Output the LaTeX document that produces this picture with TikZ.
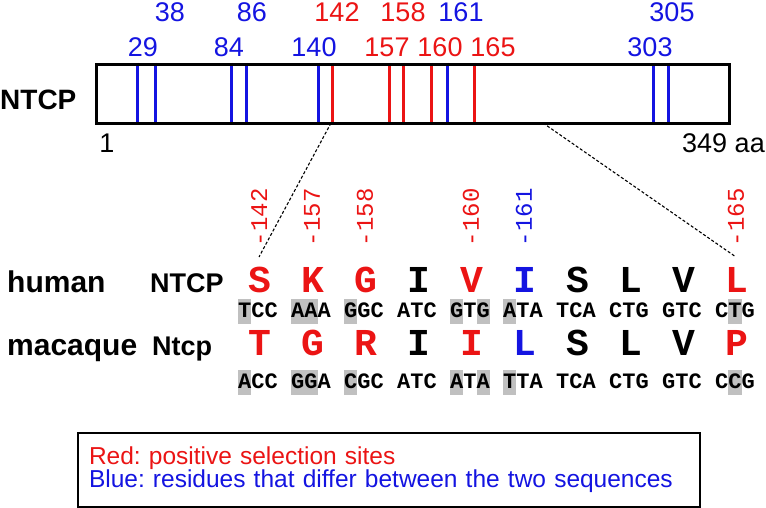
\documentclass[tikz,border=0pt]{standalone}
\usepackage{fontspec}
\setmainfont{Liberation Sans}
\newfontfamily\courfont{Liberation Mono}
\usetikzlibrary{calc}
\frenchspacing
\definecolor{ink}{RGB}{0,0,0}
\definecolor{selred}{RGB}{235,20,20}
\definecolor{diffblue}{RGB}{20,20,225}
\definecolor{hlgray}{RGB}{192,192,192}
\newcommand{\px}[1]{\fontsize{#1}{#1}\selectfont}
\newcommand{\hl}[1]{{\setlength{\fboxsep}{0pt}\colorbox{hlgray}{\rule[-0.3em]{0pt}{1.1em}#1}}}
\tikzset{
  every picture/.style={x=1pt, y=-1pt, color=ink},
  bar/.style={draw=ink, line width=3pt, inner sep=0pt},
  site/.style={line width=3pt},
  sitelbl/.style={font=\px{27}, inner sep=0pt},
  barname/.style={font=\px{28}\bfseries, anchor=west, inner sep=0pt},
  species/.style={font=\px{30}\bfseries, anchor=base west, inner sep=0pt},
  gene/.style={font=\px{27}\bfseries, anchor=base west, inner sep=0pt},
  res/.style={font=\courfont\bfseries\px{38}, anchor=base, inner sep=0pt},
  codon/.style={font=\courfont\bfseries\px{22}, anchor=base, inner sep=0pt},
  poslbl/.style={font=\courfont\px{24}, rotate=90, anchor=west, inner sep=1pt, outer sep=10pt},
  zoomline/.style={densely dashed, line width=1.1pt},
  legend/.style={draw=ink, line width=2pt, fill=white, anchor=north west, align=left,
    text width=600pt, inner xsep=11pt, minimum width=622pt, minimum height=74pt,
    font=\fontsize{24.5}{23}\selectfont},
}

\begin{document}
\begin{tikzpicture}
  \useasboundingbox (0,0) rectangle (766,508);

  % protein bar with the marked sites
  \foreach \x/\c in {137/diffblue,155/diffblue,231/diffblue,246/diffblue,318/diffblue,332/selred,
                     389/selred,403/selred,431/selred,447/diffblue,474/selred,653/diffblue,668/diffblue}
    \draw[site, \c] (\x,63) -- (\x,122);
  \node[bar, minimum width=633pt, minimum height=59pt, anchor=north west] (ntcpbar) at (95,63) {};
  \node[barname] (barlbl) at (0,100) {NTCP};
  \node[sitelbl] (first) at (107,143) {1};
  \node[sitelbl, anchor=east] (last) at (765,143) {349 aa};

  \foreach \n/\x/\y/\c in {29/143/47/diffblue,38/170/12/diffblue,84/229/47/diffblue,86/252/12/diffblue,
                           140/314/47/diffblue,142/337/12/selred,157/387/47/selred,158/403/12/selred,
                           160/440/47/selred,161/461/12/diffblue,165/493/47/selred,303/650/47/diffblue,
                           305/672/12/diffblue}
    \node[sitelbl, text=\c] (s\n) at (\x,\y) {\n};

  % alignment
  \node[species] (human) at (7,292) {human};
  \node[gene] (hgene) at (150,292) {NTCP};
  \node[species] (macaque) at (7,355) {macaque};
  \node[gene] (mgene) at (152,355) {Ntcp};

  \foreach \a/\c [count=\i] in {S/selred,K/selred,G/selred,I/ink,V/selred,I/diffblue,S/ink,L/ink,V/ink,L/selred}
    \node[res, text=\c] (h\i) at ({207+53*\i},292) {\a};
  \foreach \a/\c [count=\i] in {T/selred,G/selred,R/selred,I/ink,I/selred,L/diffblue,S/ink,L/ink,V/ink,P/selred}
    \node[res, text=\c] (m\i) at ({207+53*\i},355) {\a};

  \foreach \t [count=\i] in {\hl{T}CC,\hl{AA}A,\hl{G}GC,ATC,\hl{G}T\hl{G},\hl{A}TA,TCA,CTG,GTC,C\hl{T}G}
    \node[codon] (hc\i) at ({205+53*\i},317) {\t};
  \foreach \t [count=\i] in {\hl{A}CC,\hl{GG}A,\hl{C}GC,ATC,\hl{A}T\hl{A},\hl{T}TA,TCA,CTG,GTC,C\hl{C}G}
    \node[codon] (mc\i) at ({205+53*\i},388) {\t};

  \foreach \n/\i/\c in {142/1/selred,157/2/selred,158/3/selred,160/5/selred,161/6/diffblue,165/10/selred}
    \node[poslbl, text=\c] (p\n) at ({206+53*\i},257) {-\n};

  % zoom from the bar to the aligned stretch
  \coordinate (cut142) at (331,123);
  \coordinate (cut209) at (543,123);
  \draw[zoomline] (cut142) -- (p142.west);
  \draw[zoomline] (cut209) -- (p165.west);

  \node[legend] (key) at (77,432) {\textcolor{selred}{Red: positive selection sites}\\
    \textcolor{diffblue}{Blue: residues that differ between the two sequences}};
\end{tikzpicture}
\end{document}
